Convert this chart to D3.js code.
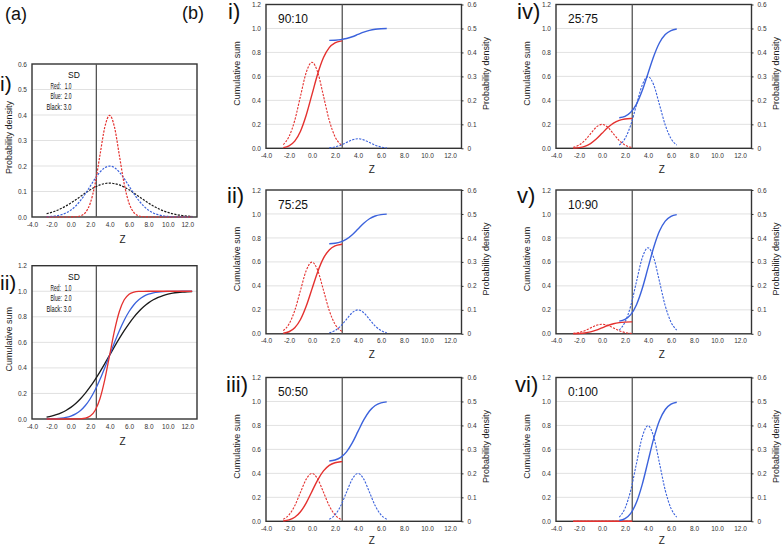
<!DOCTYPE html>
<html><head><meta charset="utf-8">
<script src="https://cdn.jsdelivr.net/npm/d3@7"></script>
<style>
body{margin:0;background:#fff;}
svg{display:block;font-family:"Liberation Sans",Arial,sans-serif;}
</style></head><body>
<svg id="c" width="784" height="546"></svg>
<script>
// ---------------- data ----------------
// (a) z grid and curves for mean 4, SD 1 / 2 / 3
const zA = [-2.5,-2,-1.5,-1,-0.5,0,0.5,1,1.5,2,2.5,3,3.5,4,4.5,5,5.5,6,6.5,7,7.5,8,8.5,9,9.5,10,10.5,11,11.5,12,12.5];
const pdfSD1 = [0,0,0,0,0.00002,0.0001,0.0009,0.0044,0.0175,0.054,0.1295,0.242,0.3521,0.3989,0.3521,0.242,0.1295,0.054,0.0175,0.0044,0.0009,0.0001,0,0,0,0,0,0,0,0,0];
const pdfSD2 = [0.0010,0.0022,0.0045,0.0088,0.0158,0.0270,0.0431,0.0648,0.0913,0.1210,0.1506,0.1760,0.1934,0.1995,0.1934,0.1760,0.1506,0.1210,0.0913,0.0648,0.0431,0.0270,0.0158,0.0088,0.0045,0.0022,0.0010,0.0004,0.0002,0.0001,0.0000];
const pdfSD3 = [0.0127,0.0180,0.0248,0.0332,0.0432,0.0547,0.0673,0.0807,0.0940,0.1065,0.1174,0.1258,0.1311,0.1330,0.1311,0.1258,0.1174,0.1065,0.0940,0.0807,0.0673,0.0547,0.0432,0.0332,0.0248,0.0180,0.0127,0.0087,0.0058,0.0038,0.0024];
const cdfSD1 = [0,0,0,0,0,0,0.0002,0.0013,0.0062,0.0228,0.0668,0.1587,0.3085,0.5,0.6915,0.8413,0.9332,0.9772,0.9938,0.9987,0.9998,1,1,1,1,1,1,1,1,1,1];
const cdfSD2 = [0.0006,0.0013,0.0030,0.0062,0.0122,0.0228,0.0401,0.0668,0.1056,0.1587,0.2266,0.3085,0.4013,0.5,0.5987,0.6915,0.7734,0.8413,0.8944,0.9332,0.9599,0.9772,0.9878,0.9938,0.9970,0.9987,0.9994,0.9998,0.9999,1,1];
const cdfSD3 = [0.0151,0.0228,0.0334,0.0478,0.0668,0.0912,0.1217,0.1587,0.2023,0.2525,0.3085,0.3694,0.4338,0.5,0.5662,0.6306,0.6915,0.7475,0.7977,0.8413,0.8783,0.9088,0.9332,0.9522,0.9666,0.9772,0.9849,0.9902,0.9938,0.9962,0.9977];
const sdLegend = ["Red:   1.0","Blue:  2.0","Black: 3.0"];

// (b) red component (mean 0, SD 1) up to the cut-off, blue component (mean 4, SD 1)
const zRed = [-2.5,-2,-1.5,-1,-0.5,0,0.5,1,1.5,2,2.5,2.63];
const redPdfUnit = [0.0175,0.054,0.1295,0.242,0.3521,0.3989,0.3521,0.242,0.1295,0.054,0.0175,0.0126];
const redCdfUnit = [0.0062,0.0228,0.0668,0.1587,0.3085,0.5,0.6915,0.8413,0.9332,0.9772,0.9938,0.9957];
const zBlue = [1.5,2,2.5,3,3.5,4,4.5,5,5.5,6,6.5];
const bluePdfUnit = [0.0175,0.054,0.1295,0.242,0.3521,0.3989,0.3521,0.242,0.1295,0.054,0.0175];
const blueCdfUnit = [0.0062,0.0228,0.0668,0.1587,0.3085,0.5,0.6915,0.8413,0.9332,0.9772,0.9938];
const ratioLabels = ["90:10","75:25","50:50","25:75","10:90","0:100"];
const redWeights  = [0.9,0.75,0.5,0.25,0.1,0];
const blueWeights = [0.1,0.25,0.5,0.75,0.9,1];
const panelNumerals = ["i)","ii)","iii)","iv)","v)","vi)"];

const cutZ = 2.63;
const xTicks = [-4,-2,0,2,4,6,8,10,12];
const cumTicks = [0,0.2,0.4,0.6,0.8,1.0,1.2];
const pdfTicksA = [0,0.1,0.2,0.3,0.4,0.5,0.6];
const pdfTicksB = [0,0.1,0.2,0.3,0.4,0.5,0.6];

// ---------------- drawing ----------------
const svg = d3.select("#c");
const RED = "#e4312f", BLUE = "#3b62dc", BLACK = "#1a1a1a";
const FRAME = "#333", GRID = "#d9d9d9", TICKTXT = "#333";

function panel(o){
  const g = svg.append("g");
  const x = d3.scaleLinear().domain([-4,13]).range([o.x0,o.x1]);
  const y = d3.scaleLinear().domain([0,o.yMax]).range([o.bottom,o.top]);
  g.selectAll("line.grid").data(o.ticks.filter(t=>t>0 && t<o.yMax-1e-9)).enter()
    .append("line").attr("x1",o.x0).attr("x2",o.x1)
    .attr("y1",d=>y(d)).attr("y2",d=>y(d))
    .attr("stroke",GRID).attr("stroke-width",0.8);
  const ax = d3.axisBottom(x).tickValues(xTicks).tickFormat(d=>d.toFixed(1)).tickSize(0).tickPadding(5);
  const gx = g.append("g").attr("transform",`translate(0,${o.bottom})`).call(ax);
  gx.select(".domain").remove();
  gx.selectAll("text").attr("font-size",6.5).attr("fill",TICKTXT).attr("font-family",null);
  const ay = d3.axisLeft(y).tickValues(o.ticks).tickFormat(d=>d.toFixed(1)).tickSize(0).tickPadding(5);
  const gy = g.append("g").attr("transform",`translate(${o.x0},0)`).call(ay);
  gy.select(".domain").remove();
  gy.selectAll("text").attr("font-size",6.5).attr("fill",TICKTXT).attr("font-family",null);
  let y2 = null;
  if (o.right){
    y2 = d3.scaleLinear().domain([0,0.6]).range([o.bottom,o.top]);
    const ar = d3.axisRight(y2).tickValues(pdfTicksB).tickFormat(d=>d===0?"0":d.toFixed(1)).tickSize(2).tickPadding(4);
    const gr = g.append("g").attr("transform",`translate(${o.x1},0)`).call(ar);
    gr.select(".domain").remove();
    gr.selectAll("line").attr("stroke",FRAME);
    gr.selectAll("text").attr("font-size",6.5).attr("fill",TICKTXT).attr("font-family",null);
    g.append("text").attr("transform",`translate(${o.x1+27},${(o.top+o.bottom)/2-3}) rotate(-90)`)
      .attr("text-anchor","middle").attr("font-size",9).attr("fill","#222").text("Probability density");
  }
  g.append("rect").attr("x",o.x0).attr("y",o.top).attr("width",o.x1-o.x0).attr("height",o.bottom-o.top)
    .attr("fill","none").attr("stroke",FRAME).attr("stroke-width",1.4);
  g.append("line").attr("x1",x(cutZ)).attr("x2",x(cutZ)).attr("y1",o.top).attr("y2",o.bottom)
    .attr("stroke","#555").attr("stroke-width",1.3);
  g.append("text").attr("x",(o.x0+o.x1)/2+8).attr("y",Math.min(o.bottom+o.zOff,543.8)).attr("text-anchor","middle")
    .attr("font-size",10).attr("fill","#222").text("Z");
  g.append("text").attr("transform",`translate(${o.x0-o.titleOff},${(o.top+o.bottom)/2-3}) rotate(-90)`)
    .attr("text-anchor","middle").attr("font-size",9).attr("fill","#222").text(o.leftTitle);
  return {g,x,y,y2};
}

function curve(g, xs, ys, xS, yS, color, dashed, w){
  const pts = xs.map((z,i)=>[z,ys[i]]);
  g.append("path").datum(pts)
    .attr("d", d3.line().x(d=>xS(d[0])).y(d=>yS(d[1])).curve(d3.curveMonotoneX))
    .attr("fill","none").attr("stroke",color).attr("stroke-width",w)
    .attr("stroke-dasharray", dashed ? "2.2,1.3" : null);
}

function label(x, y, txt, size){
  svg.append("text").attr("x",x).attr("y",y).attr("font-size",size).attr("fill","#111").text(txt);
}

// ----- (a) -----
label(5,19.5,"(a)",18);
label(0,90.5,"i)",21);
label(0,290,"ii)",21);

const pA1 = panel({x0:32,x1:197,top:64,bottom:217,yMax:0.6,ticks:pdfTicksA,leftTitle:"Probability density",titleOff:20,zOff:26});
curve(pA1.g, zA, pdfSD3, pA1.x, pA1.y, BLACK, true, 1.2);
curve(pA1.g, zA, pdfSD2, pA1.x, pA1.y, BLUE, true, 1.2);
curve(pA1.g, zA, pdfSD1, pA1.x, pA1.y, RED, true, 1.2);

const pA2 = panel({x0:32,x1:197,top:265.7,bottom:419,yMax:1.2,ticks:cumTicks,leftTitle:"Cumulative sum",titleOff:20,zOff:26});
curve(pA2.g, zA, cdfSD3, pA2.x, pA2.y, BLACK, false, 1.3);
curve(pA2.g, zA, cdfSD2, pA2.x, pA2.y, BLUE, false, 1.3);
curve(pA2.g, zA, cdfSD1, pA2.x, pA2.y, RED, false, 1.3);

[pA1, pA2].forEach((p)=>{
  const t = p.y.range()[1];
  p.g.append("text").attr("x",68).attr("y",t+14).attr("font-size",8.5).attr("fill","#111").text("SD");
  sdLegend.forEach((s,i)=>{
    p.g.append("text").attr("x", i===2?46.5:50.5).attr("y",t+24.8+i*10.6)
      .attr("font-size",8.5).attr("fill","#111").style("white-space","pre")
      .attr("textLength", i===2?25:21).attr("lengthAdjust","spacingAndGlyphs").text(s);
  });
});

// ----- (b) -----
label(182,18.5,"(b)",18);
const colX = [266,556];
const rowTop = [4.5,190,377.5];
const PH = 143.8, PW = 195.5;
const numX = [[228,227,226],[517,517,515]];
const numY = [18.5,203,391.5];

ratioLabels.forEach((lab,k)=>{
  const c = Math.floor(k/3), r = k%3;
  const x0 = colX[c], top = rowTop[r];
  const p = panel({x0:x0,x1:x0+PW,top:top,bottom:top+PH,yMax:1.2,ticks:cumTicks,leftTitle:"Cumulative sum",titleOff:26,right:true,zOff:24.4});
  const wR = redWeights[k], wB = blueWeights[k];
  curve(p.g, zRed, redPdfUnit.map(v=>v*wR), p.x, p.y2, RED, true, 1.1);
  curve(p.g, zBlue, bluePdfUnit.map(v=>v*wB), p.x, p.y2, BLUE, true, 1.1);
  curve(p.g, zRed, redCdfUnit.map(v=>v*wR), p.x, p.y, RED, false, 1.4);
  curve(p.g, zBlue, blueCdfUnit.map(v=>wR+v*wB), p.x, p.y, BLUE, false, 1.4);
  p.g.append("text").attr("x",x0+12).attr("y",top+18.5).attr("font-size",12).attr("fill","#111").text(lab);
  label(numX[c][r], numY[r], panelNumerals[k], 22);
});
</script>
</body></html>
